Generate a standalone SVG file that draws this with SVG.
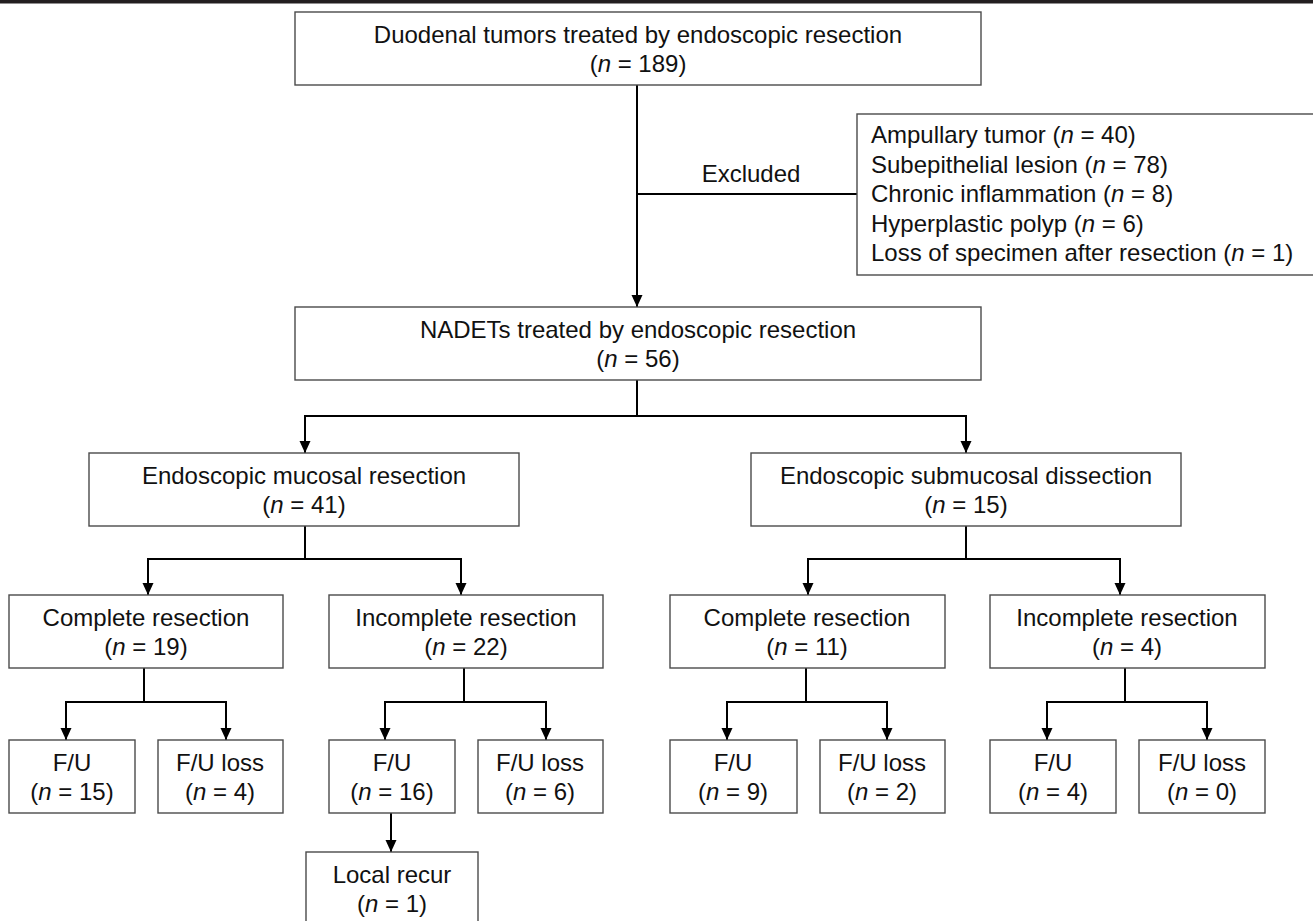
<svg xmlns="http://www.w3.org/2000/svg" width="1313" height="921" viewBox="0 0 1313 921">
<defs>
<style>
.box{fill:#fff;stroke:#4a4a4a;stroke-width:1.4}
.t{font-family:"Liberation Sans",Arial,sans-serif;font-size:24px;fill:#111;text-anchor:middle}
.tl{font-family:"Liberation Sans",Arial,sans-serif;font-size:24px;fill:#111;text-anchor:start}
.c{fill:none;stroke:#000;stroke-width:2}
.a{fill:none;stroke:#000;stroke-width:2;marker-end:url(#ah)}
</style>
<marker id="ah" markerUnits="userSpaceOnUse" markerWidth="12" markerHeight="12" refX="12" refY="5.5" orient="auto">
<path d="M0,0 L12,5.5 L0,11 z" fill="#000"/>
</marker>
</defs>
<rect width="1313" height="921" fill="#fff"/>
<rect x="0" y="0" width="1313" height="3.5" fill="#231f20"/>

<g id="connectors">
<path class="a" d="M637,85 V307"/>
<path class="c" d="M637,194 H857"/>
<path class="c" d="M637,380 V416 M305,416 H966"/>
<path class="a" d="M305,415 V453"/>
<path class="a" d="M966,415 V453"/>
<path class="c" d="M305,526 V559 M148,559 H461"/>
<path class="a" d="M148,558 V595"/>
<path class="a" d="M461,558 V595"/>
<path class="c" d="M966,526 V559 M808,559 H1120"/>
<path class="a" d="M808,558 V595"/>
<path class="a" d="M1120,558 V595"/>
<path class="c" d="M144,668 V702 M66,702 H226"/>
<path class="a" d="M66,701 V740"/>
<path class="a" d="M226,701 V740"/>
<path class="c" d="M464,668 V702 M385,702 H546"/>
<path class="a" d="M385,701 V740"/>
<path class="a" d="M546,701 V740"/>
<path class="a" d="M391,813 V852"/>
<path class="c" d="M806,668 V702 M727,702 H887"/>
<path class="a" d="M727,701 V740"/>
<path class="a" d="M887,701 V740"/>
<path class="c" d="M1125,668 V702 M1047,702 H1207"/>
<path class="a" d="M1047,701 V740"/>
<path class="a" d="M1207,701 V740"/>
<text class="t" x="751" y="182">Excluded</text>
</g>

<g id="n-duodenal">
<rect class="box" x="295" y="12" width="686" height="73"/>
<text class="t" x="638" y="43">Duodenal tumors treated by endoscopic resection</text>
<text class="t" x="638" y="72">(<tspan font-style="italic">n</tspan> = 189)</text>
</g>

<g id="n-excluded">
<rect class="box" x="857" y="114" width="460" height="161"/>
<text class="tl" x="871" y="143">Ampullary tumor (<tspan font-style="italic">n</tspan> = 40)</text>
<text class="tl" x="871" y="173">Subepithelial lesion (<tspan font-style="italic">n</tspan> = 78)</text>
<text class="tl" x="871" y="202">Chronic inflammation (<tspan font-style="italic">n</tspan> = 8)</text>
<text class="tl" x="871" y="232">Hyperplastic polyp (<tspan font-style="italic">n</tspan> = 6)</text>
<text class="tl" x="871" y="261">Loss of specimen after resection (<tspan font-style="italic">n</tspan> = 1)</text>
</g>

<g id="n-nadets">
<rect class="box" x="295" y="307" width="686" height="73"/>
<text class="t" x="638" y="338">NADETs treated by endoscopic resection</text>
<text class="t" x="638" y="367">(<tspan font-style="italic">n</tspan> = 56)</text>
</g>

<g id="n-emr">
<rect class="box" x="89" y="453" width="430" height="73"/>
<text class="t" x="304" y="484">Endoscopic mucosal resection</text>
<text class="t" x="304" y="513">(<tspan font-style="italic">n</tspan> = 41)</text>
</g>

<g id="n-esd">
<rect class="box" x="751" y="453" width="430" height="73"/>
<text class="t" x="966" y="484">Endoscopic submucosal dissection</text>
<text class="t" x="966" y="513">(<tspan font-style="italic">n</tspan> = 15)</text>
</g>

<g id="n-emr-complete">
<rect class="box" x="9" y="595" width="274" height="73"/>
<text class="t" x="146" y="626">Complete resection</text>
<text class="t" x="146" y="655">(<tspan font-style="italic">n</tspan> = 19)</text>
</g>

<g id="n-emr-incomplete">
<rect class="box" x="329" y="595" width="274" height="73"/>
<text class="t" x="466" y="626">Incomplete resection</text>
<text class="t" x="466" y="655">(<tspan font-style="italic">n</tspan> = 22)</text>
</g>

<g id="n-esd-complete">
<rect class="box" x="670" y="595" width="275" height="73"/>
<text class="t" x="807" y="626">Complete resection</text>
<text class="t" x="807" y="655">(<tspan font-style="italic">n</tspan> = 11)</text>
</g>

<g id="n-esd-incomplete">
<rect class="box" x="990" y="595" width="275" height="73"/>
<text class="t" x="1127" y="626">Incomplete resection</text>
<text class="t" x="1127" y="655">(<tspan font-style="italic">n</tspan> = 4)</text>
</g>

<g id="n-fu-15">
<rect class="box" x="9" y="740" width="126" height="73"/>
<text class="t" x="72" y="771">F/U</text>
<text class="t" x="72" y="800">(<tspan font-style="italic">n</tspan> = 15)</text>
</g>
<g id="n-fuloss-4">
<rect class="box" x="158" y="740" width="125" height="73"/>
<text class="t" x="220" y="771">F/U loss</text>
<text class="t" x="220" y="800">(<tspan font-style="italic">n</tspan> = 4)</text>
</g>
<g id="n-fu-16">
<rect class="box" x="329" y="740" width="126" height="73"/>
<text class="t" x="392" y="771">F/U</text>
<text class="t" x="392" y="800">(<tspan font-style="italic">n</tspan> = 16)</text>
</g>
<g id="n-fuloss-6">
<rect class="box" x="478" y="740" width="125" height="73"/>
<text class="t" x="540" y="771">F/U loss</text>
<text class="t" x="540" y="800">(<tspan font-style="italic">n</tspan> = 6)</text>
</g>
<g id="n-local-recur">
<rect class="box" x="306" y="852" width="172" height="74"/>
<text class="t" x="392" y="883">Local recur</text>
<text class="t" x="392" y="912">(<tspan font-style="italic">n</tspan> = 1)</text>
</g>
<g id="n-fu-9">
<rect class="box" x="670" y="740" width="127" height="73"/>
<text class="t" x="733" y="771">F/U</text>
<text class="t" x="733" y="800">(<tspan font-style="italic">n</tspan> = 9)</text>
</g>
<g id="n-fuloss-2">
<rect class="box" x="820" y="740" width="125" height="73"/>
<text class="t" x="882" y="771">F/U loss</text>
<text class="t" x="882" y="800">(<tspan font-style="italic">n</tspan> = 2)</text>
</g>
<g id="n-fu-4">
<rect class="box" x="990" y="740" width="126" height="73"/>
<text class="t" x="1053" y="771">F/U</text>
<text class="t" x="1053" y="800">(<tspan font-style="italic">n</tspan> = 4)</text>
</g>
<g id="n-fuloss-0">
<rect class="box" x="1139" y="740" width="126" height="73"/>
<text class="t" x="1202" y="771">F/U loss</text>
<text class="t" x="1202" y="800">(<tspan font-style="italic">n</tspan> = 0)</text>
</g>
</svg>
